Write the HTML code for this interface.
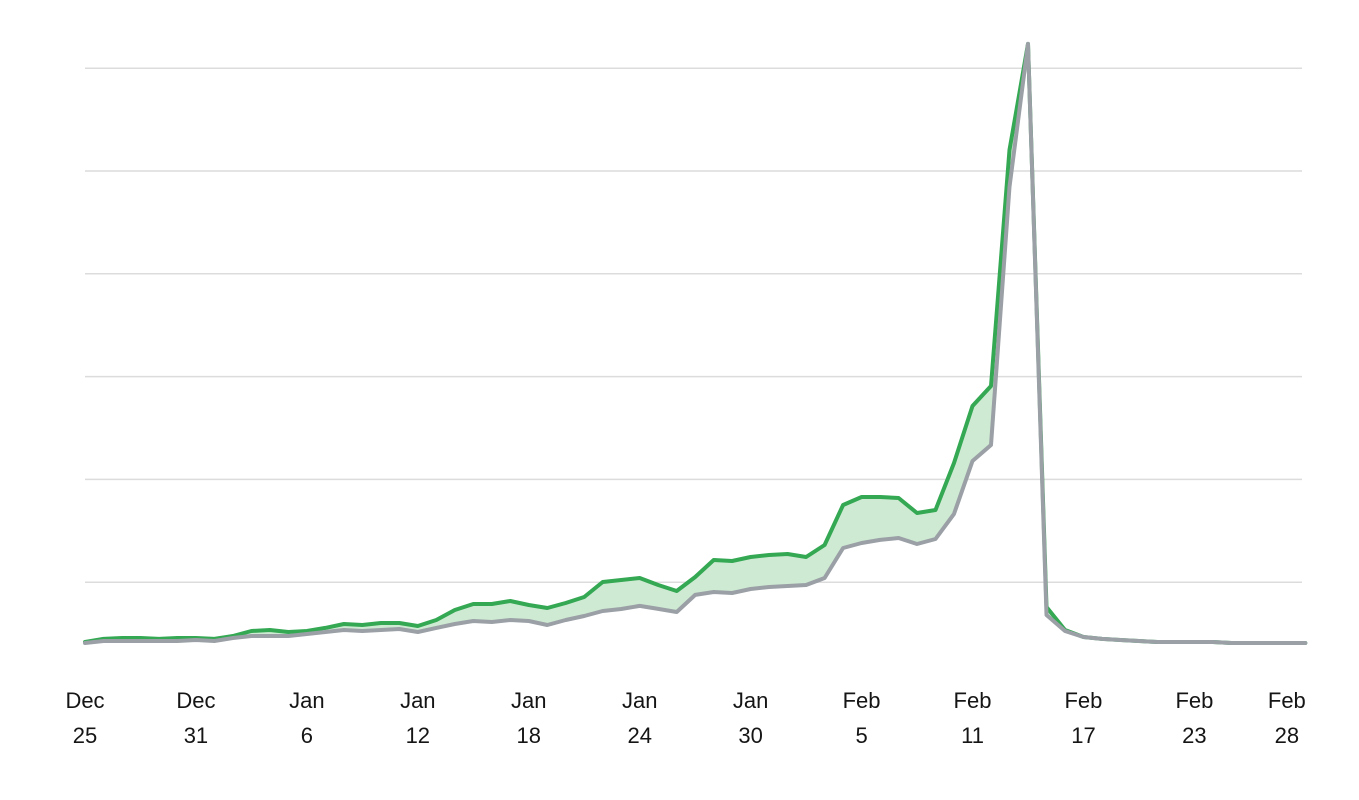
<!DOCTYPE html>
<html><head><meta charset="utf-8"><style>
html,body{margin:0;padding:0;background:#fff;width:1359px;height:800px;overflow:hidden}
svg{display:block}
text{font-family:"Liberation Sans",sans-serif;font-size:22px;fill:#151515}
</style></head><body>
<svg id="chart" width="1359" height="800" viewBox="0 0 1359 800" xmlns="http://www.w3.org/2000/svg">
<g id="grid"></g>
<g id="series"></g>
<g id="xaxis"></g>
</svg>
<script>
const gridValues = [100, 200, 300, 400, 500, 600];
const tickDays = [0, 6, 12, 18, 24, 30, 36, 42, 48, 54, 60, 65];
const tickMonths = ["Dec","Dec","Jan","Jan","Jan","Jan","Jan","Feb","Feb","Feb","Feb","Feb"];
const tickDates = ["25","31","6","12","18","24","30","5","11","17","23","28"];
const greenSeries = [41.8,44.8,45.7,45.7,44.8,45.7,45.7,44.8,47.7,52.5,53.5,51.6,52.5,55.5,59.3,58.4,60.3,60.3,57.4,63.2,73.0,78.8,78.8,81.7,77.8,74.9,79.8,85.6,100.2,102.1,104.1,97.3,91.4,105.1,121.6,120.6,124.5,126.5,127.4,124.5,136.2,175.1,182.9,182.9,181.9,167.3,170.2,216.0,271.4,290.9,520.5,623.6,75.9,53.5,46.7,44.8,43.8,42.8,41.8,41.8,41.8,41.8,40.9,40.9,40.9,40.9,40.9];
const graySeries = [40.9,42.8,42.8,42.8,42.8,42.8,43.8,42.8,45.7,47.7,47.7,47.7,49.6,51.6,53.5,52.5,53.5,54.5,51.6,55.5,59.3,62.3,61.3,63.2,62.3,58.4,63.2,67.1,72.0,73.9,76.9,74.0,71.0,87.6,90.5,89.5,93.4,95.3,96.3,97.3,104.1,133.3,138.1,141.1,143.0,137.2,142.0,166.4,217.9,233.5,484.5,623.6,68.1,52.5,46.7,44.8,43.8,42.8,41.8,41.8,41.8,41.8,40.9,40.9,40.9,40.9,40.9];

const NS = "http://www.w3.org/2000/svg";
const x0 = 85, dayW = 18.49, y0 = 685, pxPerUnit = 1.028;
function xScale(d){ return x0 + d * dayW; }
function yScale(v){ return y0 - v * pxPerUnit; }
function mk(tag, attrs){ const e = document.createElementNS(NS, tag); for (const k in attrs) e.setAttribute(k, attrs[k]); return e; }

const grid = document.getElementById('grid');
gridValues.forEach(v => {
  const l = mk('line', {x1: 85, x2: 1302, y1: yScale(v), y2: yScale(v), stroke: '#dcdcdc', 'stroke-width': 1.5});
  
  
  grid.appendChild(l);
});

const series = document.getElementById('series');
const gPts = greenSeries.map((v, i) => xScale(i).toFixed(1) + ',' + yScale(v).toFixed(1));
const rPts = graySeries.map((v, i) => xScale(i).toFixed(1) + ',' + yScale(v).toFixed(1));
const band = mk('polygon', {points: gPts.concat(rPts.slice().reverse()).join(' '), fill: '#cfead3'});


series.appendChild(band);
const gl = mk('polyline', {points: gPts.join(' '), fill: 'none', stroke: '#34a853', 'stroke-width': 4, 'stroke-linejoin': 'round', 'stroke-linecap': 'round'});


series.appendChild(gl);
const rl = mk('polyline', {points: rPts.join(' '), fill: 'none', stroke: '#9aa0a6', 'stroke-width': 4, 'stroke-linejoin': 'round', 'stroke-linecap': 'round'});


series.appendChild(rl);

const xa = document.getElementById('xaxis');
tickDays.forEach((d, i) => {
  const t = mk('text', {x: xScale(d), y: 708, 'text-anchor': 'middle'});
  
  
  const a = mk('tspan', {x: xScale(d), y: 708}); a.textContent = tickMonths[i];
  const b = mk('tspan', {x: xScale(d), y: 743}); b.textContent = tickDates[i];
  t.appendChild(a); t.appendChild(b);
  xa.appendChild(t);
});
</script>
</body></html>
